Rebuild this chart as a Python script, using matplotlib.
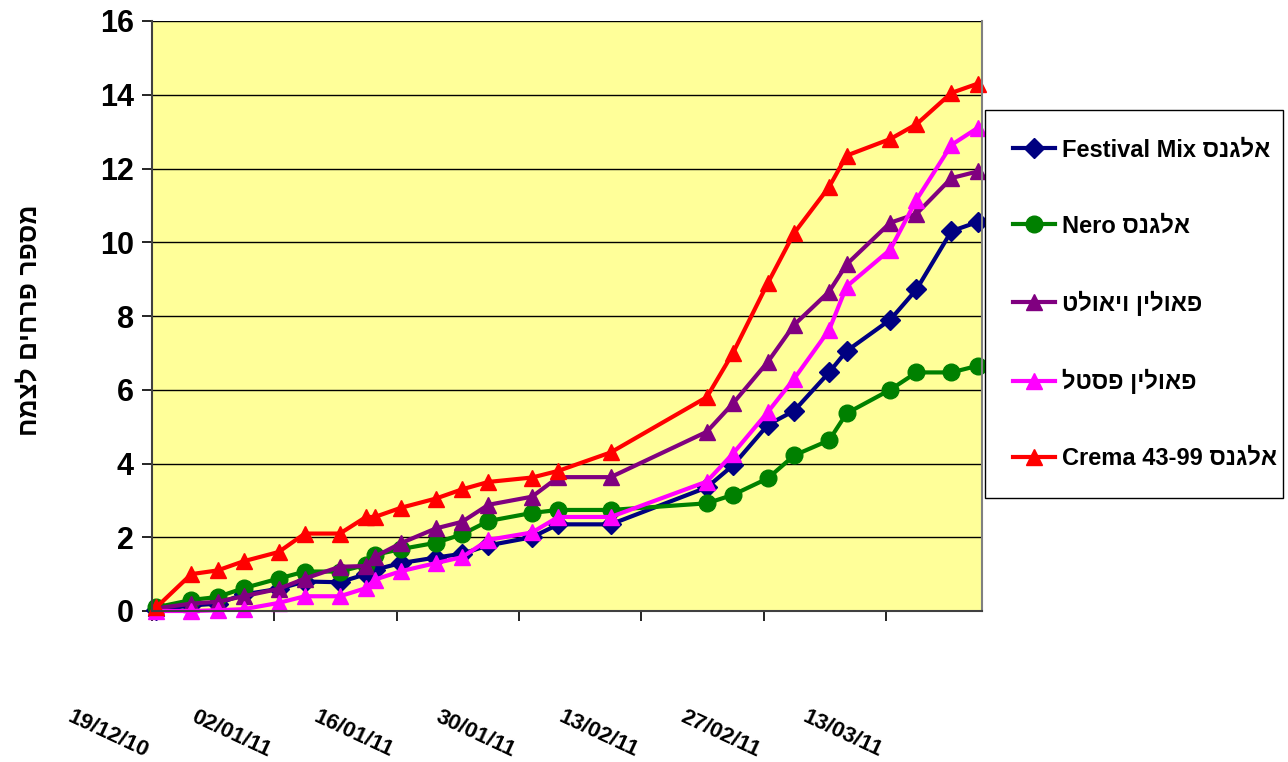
import pandas as pd
import matplotlib
matplotlib.use('Agg')
from matplotlib import pyplot as plt

# --- data ---
dates = ['19/12/10', '23/12/10', '26/12/10', '29/12/10', '02/01/11', '05/01/11',
         '09/01/11', '12/01/11', '13/01/11', '16/01/11', '20/01/11', '23/01/11',
         '26/01/11', '31/01/11', '03/02/11', '09/02/11', '20/02/11', '23/02/11',
         '27/02/11', '02/03/11', '06/03/11', '08/03/11', '13/03/11', '16/03/11',
         '20/03/11', '23/03/11']

festival_mix = [0.03, 0.15, 0.2, 0.45, 0.6, 0.8, 0.78, 1.0, 1.12, 1.3, 1.45, 1.55, 1.78,
                2.0, 2.35, 2.35, 3.35, 3.95, 5.05, 5.43, 6.47, 7.05, 7.9, 8.72, 10.3, 10.55]
nero = [0.1, 0.3, 0.38, 0.62, 0.88, 1.07, 1.07, 1.25, 1.52, 1.68, 1.85, 2.08, 2.44,
        2.66, 2.74, 2.74, 2.92, 3.15, 3.6, 4.22, 4.63, 5.36, 6.0, 6.47, 6.47, 6.65]
violet = [0.07, 0.2, 0.25, 0.4, 0.6, 0.88, 1.2, 1.22, 1.47, 1.84, 2.24, 2.42, 2.88,
          3.1, 3.63, 3.63, 4.86, 5.63, 6.76, 7.76, 8.66, 9.4, 10.53, 10.77, 11.74, 11.92]
pastel = [0.0, 0.0, 0.02, 0.05, 0.22, 0.4, 0.4, 0.62, 0.85, 1.08, 1.3, 1.46, 1.93,
          2.13, 2.55, 2.55, 3.51, 4.27, 5.4, 6.3, 7.62, 8.8, 9.8, 11.15, 12.64, 13.1]
crema = [0.1, 1.0, 1.1, 1.35, 1.6, 2.1, 2.1, 2.55, 2.55, 2.8, 3.05, 3.3, 3.5,
         3.62, 3.8, 4.3, 5.8, 7.0, 8.9, 10.25, 11.5, 12.35, 12.8, 13.2, 14.05, 14.3]

series_names = ['אלגנס Festival Mix', 'אלגנס Nero', 'פאולין ויאולט', 'פאולין פסטל',
                'אלגנס Crema 43-99']
tick_dates = ['19/12/10', '02/01/11', '16/01/11', '30/01/11', '13/02/11', '27/02/11', '13/03/11']
y_label = 'מספר פרחים לצמח'

FONT = ['Liberation Sans', 'DejaVu Sans']
plt.rcParams['font.family'] = FONT


def is_heb(word):
    return any('\u0590' <= ch <= '\u05ff' for ch in word)


def visual(text):
    # very small bidi: RTL paragraph, hebrew runs reversed, latin runs kept
    runs = []
    for w in text.split(' '):
        h = is_heb(w)
        if runs and runs[-1][0] == h:
            runs[-1][1].append(w)
        else:
            runs.append([h, [w]])
    out = []
    for h, words in reversed(runs):
        s = ' '.join(words)
        out.append(s[::-1] if h else s)
    return ' '.join(out)


t0 = pd.to_datetime(dates[0], format='%d/%m/%y')
x = [(pd.to_datetime(d, format='%d/%m/%y') - t0).days for d in dates]
xt = [(pd.to_datetime(d, format='%d/%m/%y') - t0).days - 0.5 for d in tick_dates]

fig = plt.figure(figsize=(12.88, 7.62), dpi=100)
ax = fig.add_axes([152 / 1288, 1 - 611 / 762, 830 / 1288, 590 / 762])
ax.set_facecolor('#FFFF99')

styles = [
    (festival_mix, '#000080', 'D', 10),
    (nero, '#008000', 'o', 12),
    (violet, '#800080', '^', 12),
    (pastel, '#FF00FF', '^', 12),
    (crema, '#FF0000', '^', 12),
]
for (vals, col, mk, ms), name in zip(styles, series_names):
    ax.plot(x, vals, color=col, marker=mk, markersize=ms, linewidth=3,
            markeredgecolor=col, label=visual(name), clip_on=False)

ax.set_xlim(-0.5, 94.5)
ax.set_ylim(0, 16)
ax.set_yticks(range(0, 17, 2))
ax.yaxis.grid(True, color='black', linewidth=1)
ax.set_axisbelow(True)

ax.set_xticks(xt)
ax.set_xticklabels(tick_dates, rotation=-25, ha='right', va='top',
                   rotation_mode='anchor', fontsize=16, fontweight='bold')
ax.tick_params(axis='x', direction='out', length=7, width=1.2, pad=88)
ax.tick_params(axis='y', direction='out', length=7, width=1.2, labelsize=22, pad=6)
for lab in ax.get_yticklabels():
    lab.set_fontweight('bold')

for s in ['left', 'bottom']:
    ax.spines[s].set_color('#404040')
    ax.spines[s].set_linewidth(1.5)
ax.spines['top'].set_visible(False)
ax.spines['right'].set_color('#808080')
ax.spines['right'].set_linewidth(1.5)

fig.text(29 / 1288, 1 - 320 / 762, visual(y_label), rotation=90, ha='center',
         va='center', fontsize=19, fontweight='bold')

leg = fig.legend(loc='upper left', bbox_to_anchor=(985 / 1288, 1 - 492 / 762, 298 / 1288, 382 / 762),
                 mode='expand', borderaxespad=0, fancybox=False, edgecolor='black',
                 framealpha=1, prop={'size': 17, 'weight': 'bold'}, labelspacing=2.25,
                 handlelength=1.75, handletextpad=0.3, borderpad=1.2)
leg.get_frame().set_linewidth(1)

fig.savefig('out.png', dpi=100)
